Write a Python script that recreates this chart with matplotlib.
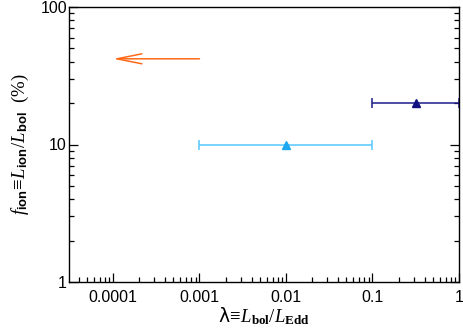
import matplotlib
matplotlib.use("Agg")
import matplotlib.pyplot as plt
from matplotlib.ticker import LogLocator, NullFormatter, FixedLocator, FixedFormatter

plt.rcParams['mathtext.fontset'] = 'custom'
plt.rcParams['mathtext.rm'] = 'Liberation Serif'
plt.rcParams['mathtext.it'] = 'Liberation Serif:italic'
plt.rcParams['mathtext.bf'] = 'Liberation Serif:bold'
plt.rcParams['mathtext.sf'] = 'Liberation Sans:bold'

# data
lam_points = [0.01, 0.32]
f_points = [10, 20]
lam_lo = [0.001, 0.1]
lam_hi = [0.1, 1.0]
line_colors = ['#55C8FF', '#1C1C8C']
marker_colors = ['#1EA8F0', '#101080']
arrow_from = (0.001, 42)
arrow_to = (0.0001, 42)
arrow_color = '#FF6A1A'

xticks = [0.0001, 0.001, 0.01, 0.1, 1]
xticklabels = ['0.0001', '0.001', '0.01', '0.1', '1']
yticks = [1, 10, 100]
yticklabels = ['1', '10', '100']

fig = plt.figure(figsize=(4.63, 3.33), dpi=100)
ax = fig.add_axes([69/463, 1-282/333, (459-69)/463, (282-7)/333])
ax.set_xscale('log')
ax.set_yscale('log')
ax.set_xlim(3.1e-5, 1.0)
ax.set_ylim(1, 100)

for i in range(len(lam_points)):
    x = lam_points[i]
    xerr = [[x - lam_lo[i]], [lam_hi[i] - x]]
    ax.errorbar([x], [f_points[i]], xerr=xerr, fmt='none', ecolor=line_colors[i],
                elinewidth=1.1, capsize=3.6, capthick=1.1, clip_on=True)
    ax.plot([x], [f_points[i]], marker='^', color=marker_colors[i], markersize=5.5,
            linestyle='none', zorder=5)

ax.annotate('', xy=arrow_to, xytext=arrow_from,
            arrowprops=dict(arrowstyle='->,head_length=1.8,head_width=0.36',
                            color=arrow_color, lw=1.1, mutation_scale=10,
                            shrinkA=0, shrinkB=0))

ax.xaxis.set_major_locator(FixedLocator(xticks))
ax.xaxis.set_major_formatter(FixedFormatter(xticklabels))
ax.xaxis.set_minor_locator(LogLocator(base=10, subs=range(2, 10), numticks=20))
ax.xaxis.set_minor_formatter(NullFormatter())
ax.yaxis.set_major_locator(FixedLocator(yticks))
ax.yaxis.set_major_formatter(FixedFormatter(yticklabels))
ax.yaxis.set_minor_locator(LogLocator(base=10, subs=range(2, 10), numticks=20))
ax.yaxis.set_minor_formatter(NullFormatter())

ax.tick_params(which='both', direction='in', top=False, right=True, width=0.9,
               labelsize=11.5, colors='black')
ax.tick_params(which='major', length=6.5)
ax.tick_params(which='minor', length=3.5)
ax.tick_params(axis='x', which='major', pad=6)
ax.tick_params(axis='y', which='major', pad=1.5)
for lab in ax.get_xticklabels() + ax.get_yticklabels():
    lab.set_fontfamily('Liberation Sans')
for s in ax.spines.values():
    s.set_linewidth(1.0)

ax.set_xlabel('λ' + r'$\!\equiv\!L_{\mathbf{bol}}/L_{\mathbf{Edd}}$', fontsize=13.5,
              labelpad=0, fontfamily='DejaVu Sans')
ax.set_ylabel(r'$f_{\mathsf{ion}}\!\equiv\!L_{\mathsf{ion}}/L_{\mathsf{bol}}\ \ (\%)$', fontsize=13.5, labelpad=7)

fig.savefig('out.png', dpi=100)
